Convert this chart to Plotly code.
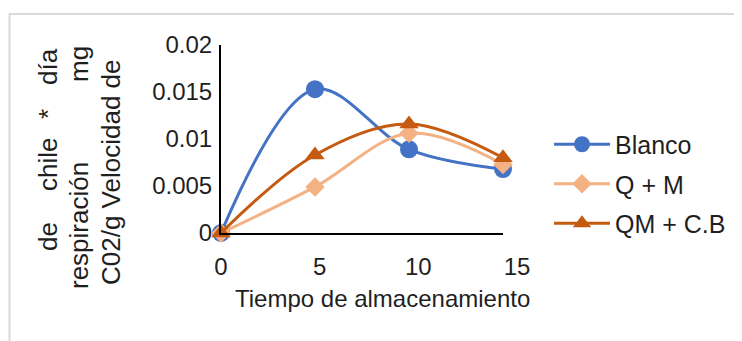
import plotly.graph_objects as go

# ---- data ----
dias = [0, 5, 10, 15]
blanco = [0.0, 0.0153, 0.0089, 0.0068]
q_m = [0.0, 0.0049, 0.0106, 0.0073]
qm_cb = [0.0, 0.0083, 0.0116, 0.0080]
series_names = ["Blanco", "Q + M", "QM + C.B"]
y_tickvals = [0, 0.005, 0.01, 0.015, 0.02]
y_ticktext = ["0", "0.005", "0.01", "0.015", "0.02"]
x_tickvals = [0, 5, 10, 15]
x_title = "Tiempo de almacenamiento"

W, H = 742, 341
OFF = 8  # default page body margin
L, R, T = 221 - OFF, 5, 45 - OFF
B = H - (233 - OFF)
PW, PH = W - L - R, H - T - B


def px(x):
    return (x - OFF - L) / PW


def py(y):
    return (H - B - (y - OFF)) / PH


FONT = "Liberation Sans, Arial, sans-serif"
TXT = "#1f1f1f"

fig = go.Figure()
styles = [
    dict(color="#4472C4", symbol="circle", size=18),
    dict(color="#F4B183", symbol="diamond", size=15),
    dict(color="#C55A11", symbol="triangle-up", size=17),
]
for i, (name, vals) in enumerate(zip(series_names, [blanco, q_m, qm_cb])):
    st = styles[i]
    fig.add_trace(go.Scatter(
        x=dias, y=vals, name=name, mode="lines+markers",
        line=dict(color=st["color"], width=3, shape="spline", smoothing=1),
        marker=dict(color=st["color"], symbol=st["symbol"], size=st["size"]),
        cliponaxis=False, legendgroup=name,
    ))
# empty trace so the tick-label axis gets drawn
fig.add_trace(go.Scatter(x=[], y=[], xaxis="x2", yaxis="y", showlegend=False,
                         hoverinfo="skip"))

fig.update_layout(
    width=W, height=H,
    margin=dict(l=L, r=R, t=T, b=B, autoexpand=False),
    paper_bgcolor="white", plot_bgcolor="rgba(0,0,0,0)",
    font=dict(family=FONT, color=TXT, size=24),
    xaxis=dict(domain=[0, px(503)], range=[0, 15], showgrid=False,
               zeroline=False, showline=True, linecolor="black", linewidth=2,
               showticklabels=False, ticks="", automargin=False),
    xaxis2=dict(domain=[0, px(517)], range=[0, 15], anchor="y", showgrid=False,
                zeroline=False, showline=False, tickvals=x_tickvals,
                ticks="", ticklabelstandoff=17, automargin=False,
                tickfont=dict(size=24, color=TXT)),
    yaxis=dict(range=[0, 0.02], showgrid=False, zeroline=False,
               showline=True, linecolor="black", linewidth=2,
               tickvals=y_tickvals, ticktext=y_ticktext, ticks="",
               ticklabelstandoff=2, tickfont=dict(size=24, color=TXT),
               automargin=False),
    legend=dict(x=px(549), y=py(184), xanchor="left", yanchor="middle",
                xref="paper", yref="paper", font=dict(size=25, color=TXT),
                tracegroupgap=4, itemwidth=56, bgcolor="rgba(0,0,0,0)"),
    showlegend=True,
)

# x-axis title
fig.add_annotation(text=x_title, x=px(382), y=py(298), xref="paper", yref="paper",
                   showarrow=False, xanchor="center", yanchor="middle",
                   font=dict(size=24, color=TXT))

# y-axis title words (justified, rotated)
ywords = [
    ("de", 48, 237), ("chile", 48, 165), ("*", 48, 114), ("día", 48, 67),
    ("respiración", 79, 226), ("mg", 79, 64),
    ("C02/g Velocidad de", 111, 172),
]
for w, cx, cy in ywords:
    fig.add_annotation(text=w, x=px(cx), y=py(cy), xref="paper", yref="paper",
                       showarrow=False, textangle=-90, xanchor="center",
                       yanchor="middle", font=dict(size=26, color=TXT))

# frame of the original figure
fig.add_shape(type="rect", xref="paper", yref="paper",
              x0=px(9.5), x1=px(760), y0=py(360), y1=py(14),
              line=dict(color="#d9d9d9", width=2), layer="below")

fig.write_html("out.html")
